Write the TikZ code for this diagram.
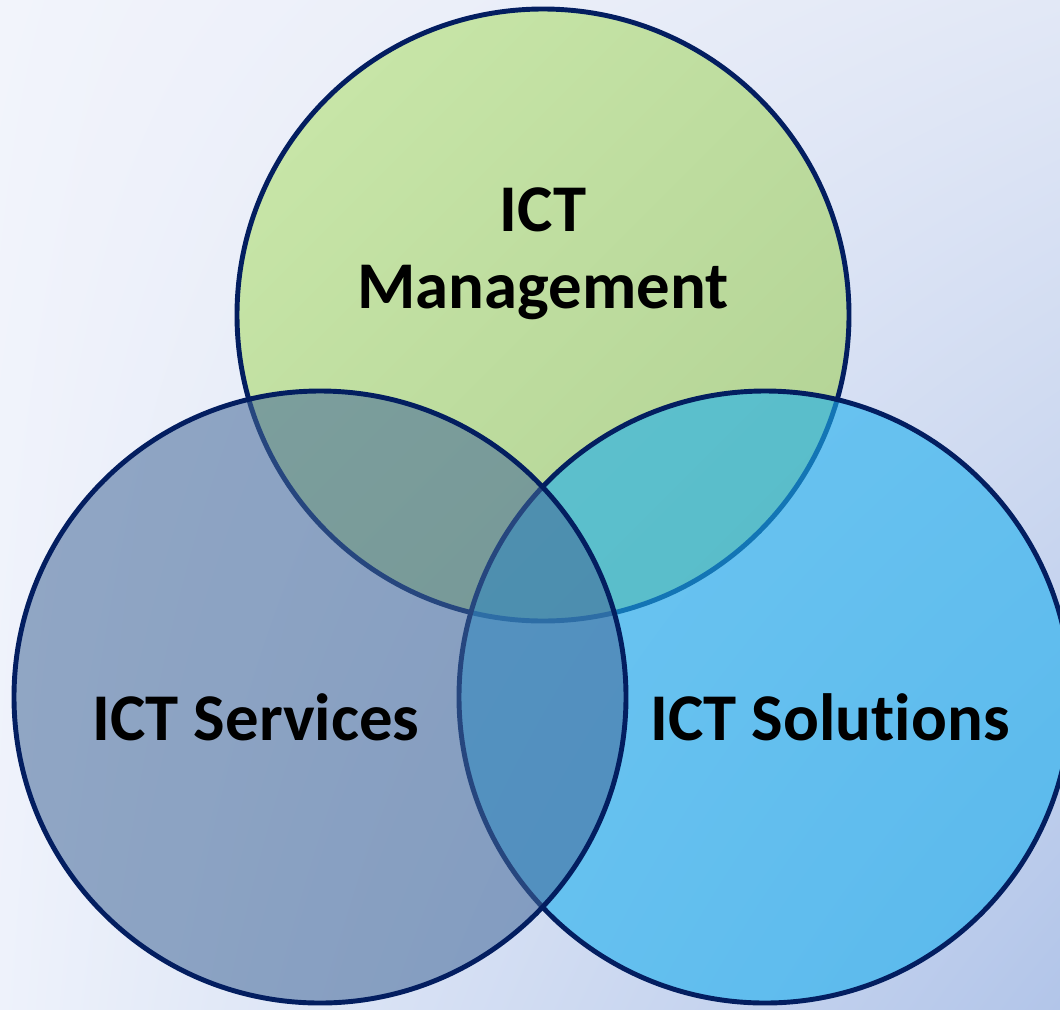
\documentclass[tikz,border=0pt]{standalone}
\usepackage{fontspec}
\setmainfont{Carlito}[Ligatures=NoCommon]
\usepackage{xcolor}
\usetikzlibrary{shadings}

\definecolor{rimblue}{RGB}{3,30,96}
\definecolor{mgmtlight}{RGB}{199,229,167}
\definecolor{mgmtdark}{RGB}{180,212,150}
\definecolor{servblue}{RGB}{67,104,152}
\definecolor{solblue}{RGB}{30,175,238}
\definecolor{bgul}{RGB}{242,244,251}
\definecolor{bgur}{RGB}{226,232,246}
\definecolor{bgll}{RGB}{238,242,251}
\definecolor{bglr}{RGB}{178,197,233}

\begin{document}
\begin{tikzpicture}[venn/.style={circle, draw=rimblue, line width=1.4pt, minimum size=6.12cm, inner sep=0pt},
                    label/.style={font=\fontsize{19}{22}\selectfont\bfseries, align=center, inner sep=0pt}]
                    % background
                    \useasboundingbox (0,0) rectangle (10.60,10.09);
                    \shade[upper left=bgul, upper right=bgur, lower left=bgll, lower right=bglr] (0,0) rectangle (10.60,10.09);

                    % circles
                    \node[venn, top color=mgmtlight, bottom color=mgmtdark, shading angle=45] (M) at (5.43,6.94) {};
                    \node[venn, fill=solblue, fill opacity=0.6] (S) at (7.65,3.12) {};
                    \node[venn, fill=servblue, fill opacity=0.55] (V) at (3.20,3.12) {};

                    % labels
                    \node[label] (MT) at (5.43,7.55) {ICT\\Management};
                    \node[label] (VT) at (2.56,2.92) {ICT Services};
                    \node[label] (ST) at (8.30,2.92) {ICT Solutions};
                \end{tikzpicture}
\end{document}
